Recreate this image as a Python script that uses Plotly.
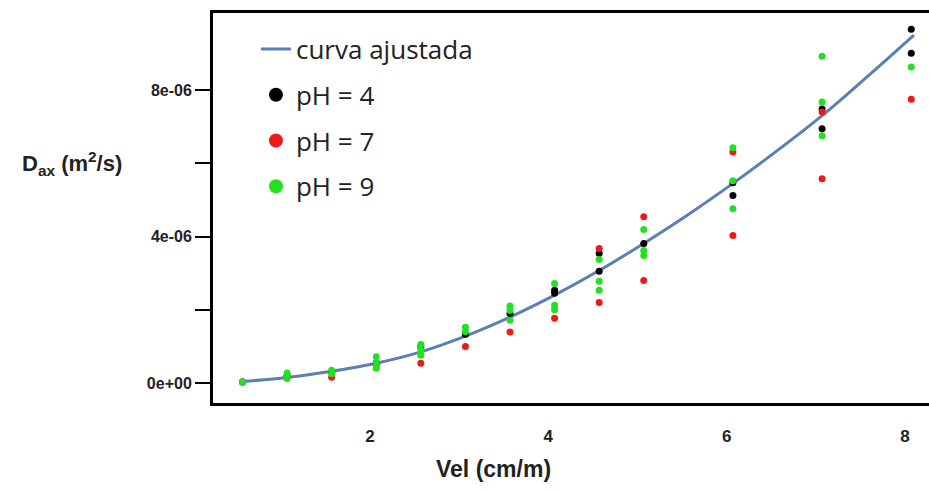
import plotly.graph_objects as go

# Data (Dax in m^2/s, Vel in cm/m)
vel_levels = [0.57, 1.07, 1.57, 2.07, 2.57, 3.07, 3.57, 4.07, 4.57, 5.07, 6.07, 7.07, 8.07]

ph4_x = [0.57, 1.07, 1.57, 2.07, 2.57, 3.07, 3.57, 4.07, 4.07, 4.57, 4.57, 5.07, 6.07, 6.07, 7.07, 7.07, 8.07, 8.07]
ph4_y = [0.03e-6, 0.20e-6, 0.30e-6, 0.55e-6, 0.98e-6, 1.33e-6, 1.90e-6, 2.45e-6, 2.53e-6, 3.54e-6, 3.05e-6,
         3.81e-6, 5.47e-6, 5.12e-6, 7.48e-6, 6.94e-6, 9.66e-6, 9.00e-6]

ph7_x = [0.57, 1.07, 1.57, 2.07, 2.57, 3.07, 3.57, 4.07, 4.57, 4.57, 5.07, 5.07, 6.07, 6.07, 7.07, 7.07, 8.07]
ph7_y = [0.03e-6, 0.18e-6, 0.16e-6, 0.50e-6, 0.54e-6, 1.00e-6, 1.39e-6, 1.77e-6, 3.67e-6, 2.20e-6,
         4.54e-6, 2.80e-6, 6.31e-6, 4.03e-6, 7.40e-6, 5.58e-6, 7.75e-6]

ph9_x = [0.57, 1.07, 1.07, 1.07, 1.57, 1.57, 2.07, 2.07, 2.07, 2.57, 2.57, 2.57, 3.07, 3.07, 3.57, 3.57, 3.57,
         4.07, 4.07, 4.07, 4.57, 4.57, 4.57, 5.07, 5.07, 5.07, 6.07, 6.07, 6.07, 7.07, 7.07, 7.07, 8.07]
ph9_y = [0.03e-6, 0.12e-6, 0.20e-6, 0.27e-6, 0.25e-6, 0.35e-6, 0.40e-6, 0.55e-6, 0.72e-6, 0.76e-6, 0.90e-6,
         1.05e-6, 1.52e-6, 1.40e-6, 2.10e-6, 1.98e-6, 1.71e-6, 2.72e-6, 2.12e-6, 2.00e-6, 3.37e-6, 2.78e-6,
         2.53e-6, 4.19e-6, 3.62e-6, 3.48e-6, 6.42e-6, 5.52e-6, 4.76e-6, 8.92e-6, 7.67e-6, 6.75e-6, 8.63e-6]

curve_x = [0.57, 1.07, 1.57, 2.07, 2.57, 3.07, 3.57, 4.07, 4.57, 5.07, 5.57, 6.07, 6.57, 7.07, 7.57, 8.10]
curve_y = [0.04e-6, 0.15e-6, 0.32e-6, 0.54e-6, 0.85e-6, 1.28e-6, 1.80e-6, 2.40e-6, 3.07e-6, 3.81e-6,
           4.60e-6, 5.45e-6, 6.35e-6, 7.30e-6, 8.35e-6, 9.50e-6]

x_tickvals = [2, 4, 6, 8]
x_ticktext = ["<b>2</b>", "<b>4</b>", "<b>6</b>", "<b>8</b>"]
y_tickvals = [0, 2e-6, 4e-6, 6e-6, 8e-6]
y_ticktext = ["<b>0e+00</b>", "", "<b>4e-06</b>", "", "<b>8e-06</b>"]

BLACK = "#000000"
RED = "#ee1a1a"
GREEN = "#22e022"
CURVE = "#5b7fb5"
NARROW = "Liberation Sans Narrow, Arial Narrow, Liberation Sans, Arial"
LEGFONT = "Open Sans, DejaVu Sans, sans-serif"

fig = go.Figure()

fig.add_trace(go.Scatter(x=curve_x, y=curve_y, mode="lines", line=dict(color=CURVE, width=3, shape="spline"),
                         name="curva ajustada", legendgroup="a"))
fig.add_trace(go.Scatter(x=ph4_x, y=ph4_y, mode="markers", marker=dict(color=BLACK, size=7),
                         showlegend=False))
fig.add_trace(go.Scatter(x=ph7_x, y=ph7_y, mode="markers", marker=dict(color=RED, size=7),
                         showlegend=False))
fig.add_trace(go.Scatter(x=ph9_x, y=ph9_y, mode="markers", marker=dict(color=GREEN, size=7),
                         showlegend=False))
# legend entries (larger symbols, as in the reference legend)
for nm, col, grp in [("pH = 4", BLACK, "b"), ("pH = 7", RED, "c"), ("pH = 9", GREEN, "d")]:
    fig.add_trace(go.Scatter(x=[None], y=[None], mode="markers", marker=dict(color=col, size=14),
                             name=nm, legendgroup=grp))

fig.update_layout(
    width=929, height=490,
    margin=dict(l=213, r=0, t=13, b=87),
    plot_bgcolor="white", paper_bgcolor="white",
    showlegend=True,
    legend=dict(x=0.06, y=0.968, xanchor="left", yanchor="top", bgcolor="rgba(0,0,0,0)",
                font=dict(family=LEGFONT, size=26, color="#222222"), tracegroupgap=9),
    xaxis=dict(range=[0.239, 8.269], tickvals=x_tickvals, ticktext=x_ticktext, ticks="", showgrid=False,
               zeroline=False, showline=True, linecolor="black", linewidth=3, mirror=True,
               tickfont=dict(family=NARROW, size=17, color="#222222"), ticklabelstandoff=16),
    yaxis=dict(range=[-0.546e-6, 10.102e-6], tickvals=y_tickvals, ticktext=y_ticktext, ticks="outside",
               ticklen=15, tickwidth=1.5, tickcolor="black", showgrid=False, zeroline=False,
               showline=True, linecolor="black", linewidth=3, mirror=False,
               tickfont=dict(family=NARROW, size=16, color="#222222")),
    annotations=[
        dict(text="<b>Vel (cm/m)</b>", xref="paper", yref="paper", x=(493 - 213) / 716, y=-0.13,
             xanchor="center", yanchor="top", showarrow=False,
             font=dict(family=NARROW, size=23, color="#222222")),
        dict(text="<b>D<sub>ax</sub> (m<sup>2</sup>/s)</b>", xref="paper", yref="paper",
             x=(20 - 213) / 716, y=(403 - 163) / 390, xanchor="left", yanchor="middle", showarrow=False,
             font=dict(family=NARROW, size=22, color="#222222")),
    ],
)

fig.write_html("out.html")
